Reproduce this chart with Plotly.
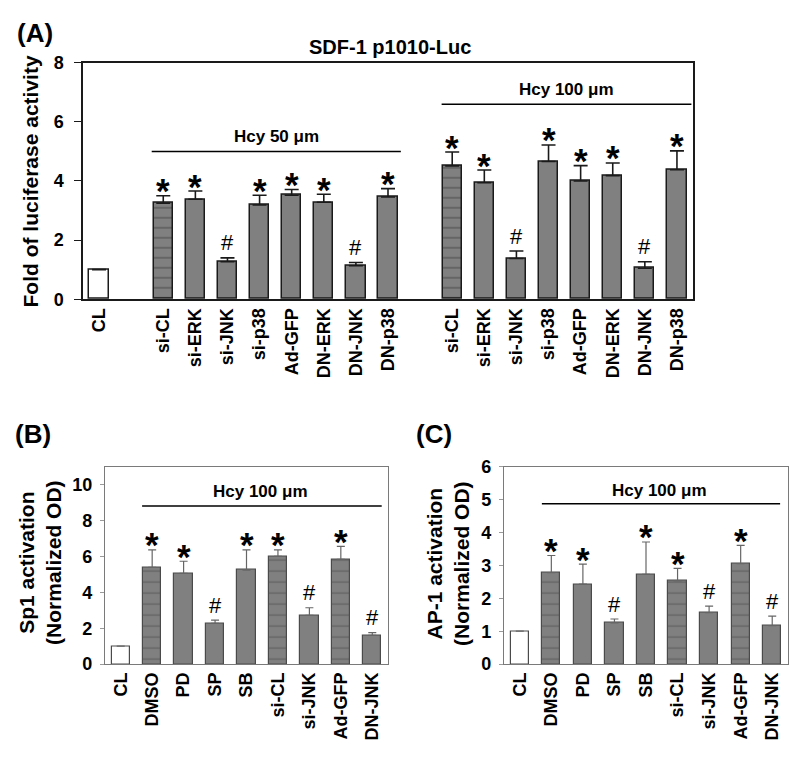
import plotly.graph_objects as go

# ---------------- data ----------------
A_label_CL = "CL"
A_value_CL = 1.0
A_labels_50 = ["si-CL", "si-ERK", "si-JNK", "si-p38", "Ad-GFP", "DN-ERK", "DN-JNK", "DN-p38"]
A_vals_50 = [3.25, 3.38, 1.27, 3.19, 3.52, 3.28, 1.13, 3.46]
A_err_50 = [0.25, 0.28, 0.13, 0.33, 0.19, 0.27, 0.11, 0.28]
A_sig_50 = ["*", "*", "#", "*", "*", "*", "#", "*"]
A_labels_100 = ["si-CL", "si-ERK", "si-JNK", "si-p38", "Ad-GFP", "DN-ERK", "DN-JNK", "DN-p38"]
A_vals_100 = [4.51, 3.94, 1.38, 4.66, 4.00, 4.18, 1.05, 4.38]
A_err_100 = [0.47, 0.43, 0.25, 0.56, 0.52, 0.43, 0.22, 0.64]
A_sig_100 = ["*", "*", "#", "*", "*", "*", "#", "*"]

BC_labels = ["CL", "DMSO", "PD", "SP", "SB", "si-CL", "si-JNK", "Ad-GFP", "DN-JNK"]
B_vals = [1.0, 5.39, 5.06, 2.27, 5.24, 6.00, 2.72, 5.84, 1.60]
B_err = [None, 0.97, 0.67, 0.18, 1.12, 0.36, 0.42, 0.72, 0.15]
C_vals = [1.0, 2.78, 2.43, 1.25, 2.73, 2.53, 1.56, 3.05, 1.17]
C_err = [None, 0.52, 0.61, 0.12, 0.98, 0.38, 0.20, 0.56, 0.29]
BC_sig = ["", "*", "*", "#", "*", "*", "#", "*", "#"]
BC_hatched = ["DMSO", "si-CL", "Ad-GFP"]

A_yticks = [0, 2, 4, 6, 8]
B_yticks = [0, 2, 4, 6, 8, 10]
C_yticks = [0, 1, 2, 3, 4, 5, 6]

# ---------------- build ----------------
FONT = "Liberation Sans, Arial, sans-serif"
GRAY = "#808080"

# page body has an 8px margin on every side; size the figure so the page fits the window exactly
OFF = 8
W, H = 800 - 2 * OFF, 759 - 2 * OFF


def dx(xp):
    return (xp - OFF) / W


def dy(yp):
    return 1 - (yp - OFF) / H


# panel A positions: CL, gap, group 50, gap, group 100
A_x = [0] + [2 + i for i in range(len(A_labels_50))] + [11 + i for i in range(len(A_labels_100))]
A_labels = [A_label_CL] + A_labels_50 + A_labels_100
A_vals = [A_value_CL] + A_vals_50 + A_vals_100
A_errs = [None] + A_err_50 + A_err_100
A_sigs = [""] + A_sig_50 + A_sig_100
A_colors = ["white"] + [GRAY] * (len(A_vals) - 1)
A_shapes = ["-" if l == "si-CL" else "" for l in A_labels]

BC_x = list(range(len(BC_labels)))
BC_colors = ["white"] + [GRAY] * (len(BC_labels) - 1)
BC_shapes = ["-" if l in BC_hatched else "" for l in BC_labels]

fig = go.Figure()

fig.add_trace(go.Bar(
    x=A_x, y=A_vals, width=0.6, xaxis="x", yaxis="y",
    marker=dict(color=A_colors, line=dict(color="#1a1a1a", width=1.5),
                pattern=dict(shape=A_shapes, fgcolor="#111111", size=10, solidity=0.18, fillmode="overlay")),
    error_y=dict(type="data", symmetric=False, array=A_errs, arrayminus=[0] * len(A_errs),
                 color="#1a1a1a", thickness=1.6, width=7),
))

for vals, errs, xa, ya in [(B_vals, B_err, "x2", "y2"), (C_vals, C_err, "x3", "y3")]:
    fig.add_trace(go.Bar(
        x=BC_x, y=vals, width=0.58, xaxis=xa, yaxis=ya,
        marker=dict(color=BC_colors, line=dict(color="#4a4a4a", width=1.2),
                    pattern=dict(shape=BC_shapes, fgcolor="#333333", size=11, solidity=0.12, fillmode="overlay")),
        error_y=dict(type="data", symmetric=False, array=errs, arrayminus=[0] * len(errs),
                     color="#666666", thickness=1.2, width=4),
    ))

annotations = []


def sig_annots(xs, vals, errs, sigs, xref, yref):
    for x, v, e, s in zip(xs, vals, errs, sigs):
        if not s:
            continue
        top = v + (e or 0)
        if s == "*":
            annotations.append(dict(x=x, y=top, xref=xref, yref=yref, text="<b>*</b>", showarrow=False,
                                    yanchor="middle", yshift=5, font=dict(family=FONT, size=35, color="black")))
        else:
            annotations.append(dict(x=x, y=top, xref=xref, yref=yref, text="#", showarrow=False,
                                    yanchor="middle", yshift=15, font=dict(family=FONT, size=22, color="black")))


sig_annots(A_x, A_vals, A_errs, A_sigs, "x", "y")
sig_annots(BC_x, B_vals, B_err, BC_sig, "x2", "y2")
sig_annots(BC_x, C_vals, C_err, BC_sig, "x3", "y3")

HCY_FONT = dict(family=FONT, size=17, color="black")
shapes = [
    dict(type="line", xref="x", yref="y", x0=1.64, x1=9.4, y0=5.0, y1=5.0, line=dict(color="black", width=1.5)),
    dict(type="line", xref="x", yref="y", x0=10.67, x1=18.45, y0=6.6, y1=6.6, line=dict(color="black", width=1.5)),
    dict(type="line", xref="x2", yref="y2", x0=0.68, x1=8.3, y0=8.8, y1=8.8, line=dict(color="black", width=1.5)),
    dict(type="line", xref="x3", yref="y3", x0=0.7, x1=8.25, y0=4.87, y1=4.87, line=dict(color="black", width=1.5)),
]
annotations += [
    dict(x=5.52, y=5.5, xref="x", yref="y", text="<b>Hcy 50 μm</b>", showarrow=False, font=HCY_FONT),
    dict(x=14.56, y=7.1, xref="x", yref="y", text="<b>Hcy 100 μm</b>", showarrow=False, font=HCY_FONT),
    dict(x=4.45, y=9.6, xref="x2", yref="y2", text="<b>Hcy 100 μm</b>", showarrow=False, font=HCY_FONT),
    dict(x=4.42, y=5.28, xref="x3", yref="y3", text="<b>Hcy 100 μm</b>", showarrow=False, font=HCY_FONT),
]

for txt, (xp, yp), size in [("<b>(A)</b>", (35, 23), 26), ("<b>(B)</b>", (33, 436), 26), ("<b>(C)</b>", (434, 436), 26),
                            ("<b>SDF-1 p1010-Luc</b>", (390, 38), 20)]:
    annotations.append(dict(x=dx(xp), y=dy(yp), xref="paper", yref="paper", text=txt, showarrow=False,
                            xanchor="center", yanchor="middle", font=dict(family=FONT, size=size, color="black")))

for txt, (xp, yp) in [("<b>Fold of luciferase activity</b>", (30, 176)),
                      ("<b>Sp1 activation<br>(Normalized OD)</b>", (40, 568)),
                      ("<b>AP-1 activation<br>(Normalized OD)</b>", (448, 568))]:
    annotations.append(dict(x=dx(xp), y=dy(yp), xref="paper", yref="paper", text=txt, showarrow=False, textangle=-90,
                            xanchor="center", yanchor="middle", font=dict(family=FONT, size=21, color="black")))

TICKFONT = dict(family=FONT, size=18, color="black", weight="bold")

fig.update_layout(
    width=W, height=H, margin=dict(l=0, r=0, t=0, b=0),
    paper_bgcolor="white", plot_bgcolor="white", showlegend=False, bargap=0,
    shapes=shapes, annotations=annotations,
    xaxis=dict(domain=[dx(83), dx(693)], range=[-0.5, 18.5], tickmode="array", tickvals=A_x, ticktext=A_labels,
               tickangle=-90, tickfont=TICKFONT, showline=True, linecolor="#1a1a1a", linewidth=1.5, mirror=True,
               showgrid=False, zeroline=False, ticks="", anchor="y"),
    yaxis=dict(domain=[dy(297), dy(54)], range=[0, 8], tickvals=A_yticks, tickfont=TICKFONT,
               showline=True, linecolor="#1a1a1a", linewidth=1.5, mirror=True, ticks="outside", ticklen=7,
               tickcolor="#1a1a1a", ticklabelstandoff=7, showgrid=False, zeroline=False, anchor="x"),
    xaxis2=dict(domain=[dx(105), dx(388)], range=[-0.5, 8.5], tickmode="array", tickvals=BC_x, ticktext=BC_labels,
                tickangle=-90, tickfont=TICKFONT, showline=True, linecolor="#7a7a7a", linewidth=1.2, mirror=True,
                showgrid=False, zeroline=False, ticks="", anchor="y2"),
    yaxis2=dict(domain=[dy(672), dy(469)], range=[0, 11], tickvals=B_yticks, tickfont=TICKFONT,
                showline=True, linecolor="#7a7a7a", linewidth=1.2, mirror=True, ticks="outside", ticklen=4,
                tickcolor="#9a9a9a", ticklabelstandoff=4, showgrid=False, zeroline=False, anchor="x2"),
    xaxis3=dict(domain=[dx(504), dx(788)], range=[-0.5, 8.5], tickmode="array", tickvals=BC_x, ticktext=BC_labels,
                tickangle=-90, tickfont=TICKFONT, showline=True, linecolor="#7a7a7a", linewidth=1.2, mirror=True,
                showgrid=False, zeroline=False, ticks="", anchor="y3"),
    yaxis3=dict(domain=[dy(672), dy(469)], range=[0, 6], tickvals=C_yticks, tickfont=TICKFONT,
                showline=True, linecolor="#7a7a7a", linewidth=1.2, mirror=True, ticks="outside", ticklen=4,
                tickcolor="#9a9a9a", ticklabelstandoff=4, showgrid=False, zeroline=False, anchor="x3"),
)

fig.write_html("out.html")
